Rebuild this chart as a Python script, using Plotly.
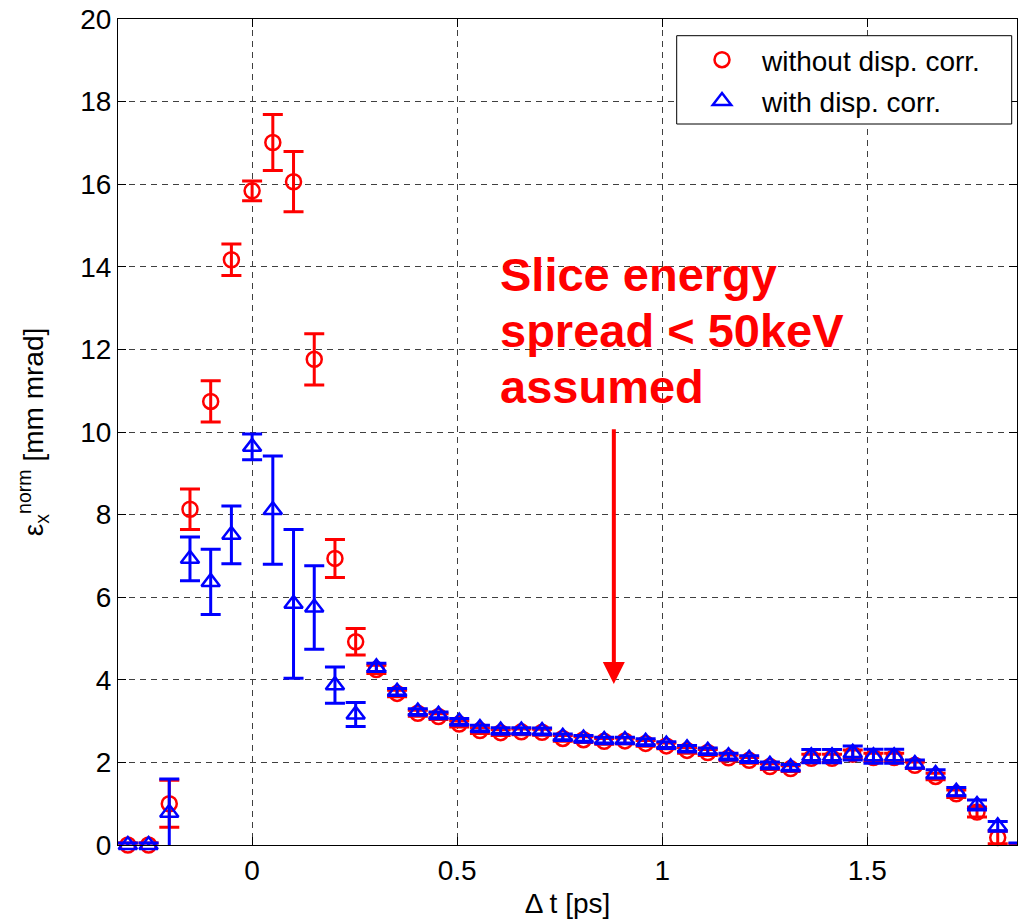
import plotly.graph_objects as go

# time axis [ps]
dt = [-0.303, -0.2525, -0.202, -0.1515, -0.101, -0.0505, 0.0, 0.0505, 0.101, 0.1515,
      0.202, 0.2525, 0.303, 0.3535, 0.404, 0.4545, 0.505, 0.5555, 0.606, 0.6565,
      0.707, 0.7575, 0.808, 0.8585, 0.909, 0.9595, 1.01, 1.0605, 1.111, 1.1615,
      1.212, 1.2625, 1.313, 1.3635, 1.414, 1.4645, 1.515, 1.5655, 1.616, 1.6665,
      1.717, 1.7675, 1.818, 1.8685]

# without dispersion correction
eps_nocorr = [0.0, 0.0, 1.0, 8.13, 10.74, 14.17, 15.84, 17.01, 16.06, 11.76,
              6.94, 4.92, 4.25, 3.67, 3.19, 3.11, 2.93, 2.77, 2.72, 2.74,
              2.73, 2.58, 2.55, 2.51, 2.52, 2.46, 2.40, 2.29, 2.24, 2.11,
              2.05, 1.90, 1.85, 2.10, 2.10, 2.20, 2.12, 2.12, 1.93, 1.66,
              1.24, 0.80, 0.18, -0.02]
err_nocorr = [0.05, 0.05, 0.57, 0.49, 0.50, 0.38, 0.24, 0.68, 0.73, 0.62,
              0.46, 0.32, 0.10, 0.08, 0.07, 0.07, 0.07, 0.07, 0.07, 0.07,
              0.07, 0.07, 0.07, 0.07, 0.07, 0.07, 0.07, 0.07, 0.07, 0.07,
              0.07, 0.07, 0.07, 0.10, 0.10, 0.10, 0.10, 0.10, 0.08, 0.08,
              0.09, 0.12, 0.15, 0.05]

# with dispersion correction
eps_corr = [0.0, 0.0, 0.78, 6.93, 6.37, 7.51, 9.64, 8.11, 5.84, 5.75,
            3.87, 3.16, 4.30, 3.71, 3.23, 3.15, 2.99, 2.83, 2.77, 2.77,
            2.76, 2.62, 2.58, 2.54, 2.54, 2.50, 2.43, 2.34, 2.28, 2.15,
            2.09, 1.94, 1.88, 2.15, 2.15, 2.23, 2.15, 2.15, 1.96, 1.72,
            1.29, 0.97, 0.45, 0.0]
err_corr = [0.05, 0.05, 0.82, 0.53, 0.79, 0.70, 0.31, 1.31, 1.80, 1.01,
            0.44, 0.29, 0.10, 0.08, 0.07, 0.07, 0.07, 0.07, 0.07, 0.07,
            0.07, 0.07, 0.07, 0.07, 0.07, 0.07, 0.07, 0.07, 0.07, 0.07,
            0.07, 0.07, 0.07, 0.16, 0.16, 0.17, 0.17, 0.17, 0.10, 0.10,
            0.10, 0.12, 0.12, 0.05]

x_ticks = [0, 0.5, 1, 1.5]
x_ticklabels = ["0", "0.5", "1", "1.5"]
y_ticks = list(range(0, 21, 2))

FONT = "Liberation Sans, Arial, sans-serif"
FS = 28

fig = go.Figure()
fig.add_trace(go.Scatter(
    x=dt, y=eps_nocorr, mode="markers", name="without disp. corr.",
    marker=dict(symbol="circle-open", size=15, color="#ff0000", line=dict(width=2.5, color="#ff0000")),
    error_y=dict(type="data", array=err_nocorr, visible=True, color="#ff0000", thickness=3, width=10),
    cliponaxis=False, legendgroup="a",
))
fig.add_trace(go.Scatter(
    x=dt, y=eps_corr, mode="markers", name="with disp. corr.",
    marker=dict(symbol="triangle-up-open", size=16, color="#0000ff", line=dict(width=2.5, color="#0000ff")),
    error_y=dict(type="data", array=err_corr, visible=True, color="#0000ff", thickness=3, width=10),
    cliponaxis=False, legendgroup="b",
))

# Text annotation lines
text_lines = ["Slice energy", "spread &lt; 50keV", "assumed"]
text_y = [13.81, 12.45, 11.11]
for t, yy in zip(text_lines, text_y):
    fig.add_annotation(x=0.6, y=yy, xref="x", yref="y", text="<b>" + t + "</b>",
                       showarrow=False, xanchor="left", yanchor="middle",
                       font=dict(family=FONT, size=47, color="#ff0000"))

# arrow
fig.add_annotation(x=0.882, y=3.9, ax=0.882, ay=10.1, xref="x", yref="y",
                   axref="x", ayref="y", text="", showarrow=True,
                   arrowhead=2, arrowsize=1.1, arrowwidth=4, arrowcolor="#ff0000")

# legend frame
fig.add_shape(type="rect", xref="paper", yref="paper",
              x0=(676.7 - 118) / 899, x1=(1011.7 - 118) / 899,
              y0=(845 - 124) / 826, y1=(845 - 35.7) / 826,
              line=dict(color="black", width=1), fillcolor="white", layer="above")

axis_common = dict(
    showline=True, linecolor="black", linewidth=1, mirror="ticks",
    ticks="inside", ticklen=8, tickcolor="black",
    showgrid=True, gridcolor="#404040", gridwidth=1, griddash="6px,5px",
    zeroline=False, tickfont=dict(family=FONT, size=FS, color="black"),
)

fig.update_layout(
    width=1018, height=922, autosize=False,
    margin=dict(l=118, r=1, t=19, b=77),
    paper_bgcolor="white", plot_bgcolor="white",
    font=dict(family=FONT, size=FS, color="black"),
    showlegend=True,
    legend=dict(x=(682 - 118) / 899, y=(845 - 35) / 826, xanchor="left", yanchor="top",
                borderwidth=0, bgcolor="rgba(0,0,0,0)",
                font=dict(family=FONT, size=FS), tracegroupgap=2,
                itemwidth=70, traceorder="grouped"),
    xaxis=dict(range=[-0.327, 1.865], tickvals=x_ticks, ticktext=x_ticklabels,
               title=dict(text="Δ t [ps]", font=dict(family=FONT, size=FS), standoff=8),
               **axis_common),
    yaxis=dict(range=[0, 20], tickvals=y_ticks,
               title=dict(text="ε<sub>x</sub><sup>norm</sup> [mm mrad]", font=dict(family=FONT, size=FS), standoff=28),
               **axis_common),
)

fig.write_html("out.html", config={"displayModeBar": False},
               post_script="document.body.style.margin='0';document.body.style.overflow='hidden';")
